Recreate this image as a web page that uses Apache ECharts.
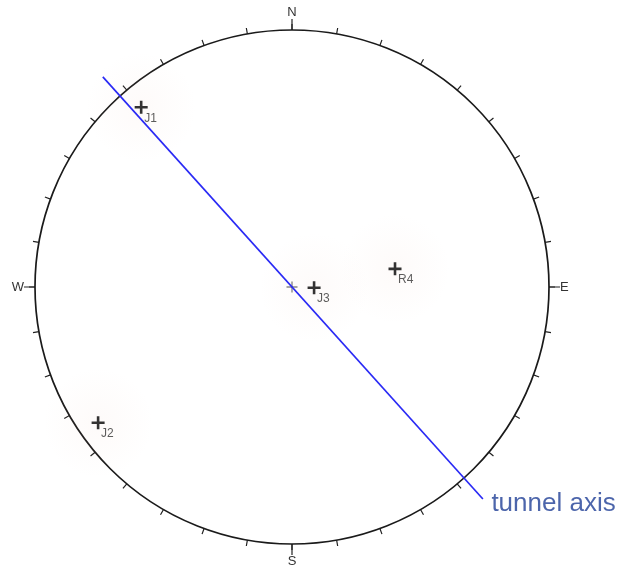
<!DOCTYPE html>
<html>
<head>
<meta charset="utf-8">
<script src="https://cdn.jsdelivr.net/npm/echarts@6/dist/echarts.min.js"></script>
<style>
  html, body { margin: 0; padding: 0; background: #fff; }
  #chart { width: 621px; height: 574px; }
</style>
</head>
<body>
<div id="chart"></div>
<script>
// poles: azimuth (deg from N, clockwise) and distance from centre (fraction of net radius)
const poleNames = ['J1', 'J2', 'J3', 'R4'];
const poleTrend = [320, 235, 92, 80];
const poleDist = [0.913, 0.921, 0.086, 0.407];

// tunnel axis: the two ends, past the net edge
const axisTrend = [318, 138];
const axisDist = [1.10, 1.11];

const cardinals = ['N', 'E', 'S', 'W'];

const CENTER = [292, 287];
const R = 257;
const font = '"Liberation Sans", Arial, sans-serif';

const plus = 'path://M-1.2,-6H1.2V-1.2H6V1.2H1.2V6H-1.2V1.2H-6V-1.2H-1.2Z';
const thinPlus = 'path://M-0.5,-6H0.5V-0.5H6V0.5H0.5V6H-0.5V0.5H-6V-0.5H-0.5Z';

const hidden = { axisLine: { show: false }, axisTick: { show: false }, axisLabel: { show: false }, splitLine: { show: false } };

const poles = poleNames.map((n, i) => ({ name: n, value: [poleDist[i], poleTrend[i]] }));

const chart = echarts.init(document.getElementById('chart'));
chart.setOption({
  animation: false,
  backgroundColor: '#fff',
  polar: [
    { center: CENTER, radius: R },
    { center: CENTER, radius: R },
    { center: CENTER, radius: R * 1.2 }
  ],
  angleAxis: [
    {
      polarIndex: 0, type: 'value', min: 0, max: 360, interval: 10, startAngle: 90, clockwise: true,
      axisLine: { lineStyle: { color: '#1a1a1a', width: 1.7 } },
      axisTick: { inside: false, length: 6, lineStyle: { color: '#222', width: 1.2 } },
      axisLabel: { show: false }, splitLine: { show: false }
    },
    {
      polarIndex: 1, type: 'value', min: 0, max: 360, interval: 90, startAngle: 90, clockwise: true,
      axisLine: { show: false },
      axisTick: { inside: false, length: 11, lineStyle: { color: '#222', width: 1.2 } },
      axisLabel: {
        margin: 11, color: '#333', fontSize: 13, fontFamily: font,
        formatter: v => (v < 360 ? cardinals[v / 90] : '')
      },
      splitLine: { show: false }
    },
    Object.assign({ polarIndex: 2, type: 'value', min: 0, max: 360, startAngle: 90, clockwise: true }, hidden)
  ],
  radiusAxis: [
    Object.assign({ polarIndex: 0, type: 'value', min: 0, max: 1 }, hidden),
    Object.assign({ polarIndex: 1, type: 'value', min: 0, max: 1 }, hidden),
    Object.assign({ polarIndex: 2, type: 'value', min: 0, max: 1.2 }, hidden)
  ],
  series: [
    {
      // faint halo round each pole
      type: 'scatter', coordinateSystem: 'polar', polarIndex: 0, silent: true,
      symbol: 'circle', symbolSize: 110,
      itemStyle: {
        color: new echarts.graphic.RadialGradient(0.5, 0.5, 0.5, [
          { offset: 0, color: 'rgba(235,190,175,0.09)' },
          { offset: 1, color: 'rgba(235,190,175,0)' }
        ])
      },
      data: poles.map(p => p.value)
    },
    {
      type: 'line', coordinateSystem: 'polar', polarIndex: 2, symbol: 'none',
      lineStyle: { color: '#2a2af5', width: 1.7 },
      data: axisDist.map((d, i) => [d, axisTrend[i]])
    },
    {
      type: 'scatter', coordinateSystem: 'polar', polarIndex: 2, symbolSize: 1,
      itemStyle: { color: 'rgba(0,0,0,0)' },
      label: {
        show: true, formatter: 'tunnel axis', position: [9, 5], align: 'left', verticalAlign: 'middle',
        color: '#1f3f96', fontSize: 26, fontFamily: font
      },
      data: [[axisDist[1], axisTrend[1]]]
    },
    {
      // centre mark
      type: 'scatter', coordinateSystem: 'polar', polarIndex: 0,
      symbol: thinPlus, symbolSize: 11, itemStyle: { color: '#222' },
      data: [[0, 0]]
    },
    {
      type: 'scatter', coordinateSystem: 'polar', polarIndex: 0,
      symbol: plus, symbolSize: 13, itemStyle: { color: '#000' },
      label: {
        show: true, formatter: '{b}', position: [9.5, 17.5], align: 'left', verticalAlign: 'middle',
        color: '#333', fontSize: 12, fontFamily: font
      },
      data: poles
    }
  ]
});
</script>
</body>
</html>
